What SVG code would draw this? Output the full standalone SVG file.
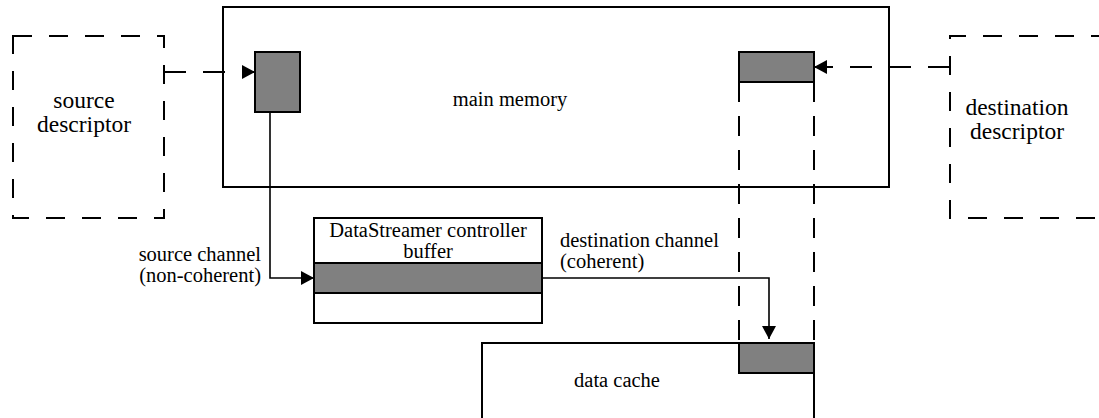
<svg xmlns="http://www.w3.org/2000/svg" width="1099" height="418" viewBox="0 0 1099 418">
  <style>
    .box { fill: #ffffff; stroke: #000000; stroke-width: 2; }
    .blk { fill: #808080; stroke: #000000; stroke-width: 2; }
    .dbox { fill: none; stroke: #000000; stroke-width: 2; stroke-dasharray: 19 17; }
    .dline { fill: none; stroke: #000000; stroke-width: 2; stroke-dasharray: 22 17; }
    .vdash { fill: none; stroke: #000000; stroke-width: 2; stroke-dasharray: 20 14; }
    .wire { fill: none; stroke: #000000; stroke-width: 1.6; }
    text { font-family: "Liberation Serif", "Times New Roman", serif; fill: #000000; font-size: 20.5px; }
    .big { font-size: 23.5px; }
    .mid { text-anchor: middle; }
    .end { text-anchor: end; }
  </style>
  <defs>
    <marker id="arrow" viewBox="0 0 13 14" refX="13" refY="7" markerWidth="13" markerHeight="14" markerUnits="userSpaceOnUse" orient="auto">
      <path d="M0,0 L13,7 L0,14 Z" fill="#000000"/>
    </marker>
  </defs>

  <!-- source descriptor -->
  <g id="source-descriptor">
    <rect class="dbox" x="13" y="36" width="151" height="182"/>
    <text class="big mid" x="84" y="108">source</text>
    <text class="big mid" x="84" y="132">descriptor</text>
  </g>

  <!-- destination descriptor (runs off the right edge) -->
  <g id="destination-descriptor">
    <path class="dbox" d="M1110,36 H950 V218 H1110"/>
    <text class="big mid" x="1017" y="115">destination</text>
    <text class="big mid" x="1017" y="139">descriptor</text>
  </g>

  <!-- main memory with its source and destination blocks -->
  <g id="main-memory">
    <rect class="box" x="223" y="7" width="666" height="180"/>
    <text class="mid" x="510" y="106">main memory</text>
    <rect class="blk" x="255" y="52" width="45" height="60"/>
    <rect class="blk" x="739" y="52" width="75" height="30"/>
  </g>

  <!-- DataStreamer controller buffer -->
  <g id="controller-buffer">
    <rect class="box" x="314" y="218" width="228" height="105"/>
    <rect class="blk" x="314" y="263" width="228" height="30"/>
    <text class="mid" x="428" y="237">DataStreamer controller</text>
    <text class="mid" x="428" y="258">buffer</text>
  </g>

  <!-- data cache (runs off the bottom edge) -->
  <g id="data-cache">
    <path class="box" d="M482,430 V343 H814 V430"/>
    <rect class="blk" x="739" y="343" width="75" height="30"/>
    <text class="mid" x="617" y="387">data cache</text>
  </g>

  <!-- connectors -->
  <g id="connectors">
    <line class="dline" x1="164" y1="72" x2="255" y2="72" marker-end="url(#arrow)"/>
    <line class="dline" x1="950" y1="67" x2="814" y2="67" marker-end="url(#arrow)"/>
    <line class="vdash" x1="739" y1="82" x2="739" y2="343"/>
    <line class="vdash" x1="814" y1="82" x2="814" y2="343"/>
    <path class="wire" d="M270,112 V278 H314" marker-end="url(#arrow)"/>
    <path class="wire" d="M542,278 H769 V339" marker-end="url(#arrow)"/>
    <text class="end" x="261" y="261">source channel</text>
    <text class="end" x="261" y="282">(non-coherent)</text>
    <text x="560" y="247">destination channel</text>
    <text x="560" y="268">(coherent)</text>
  </g>
</svg>
